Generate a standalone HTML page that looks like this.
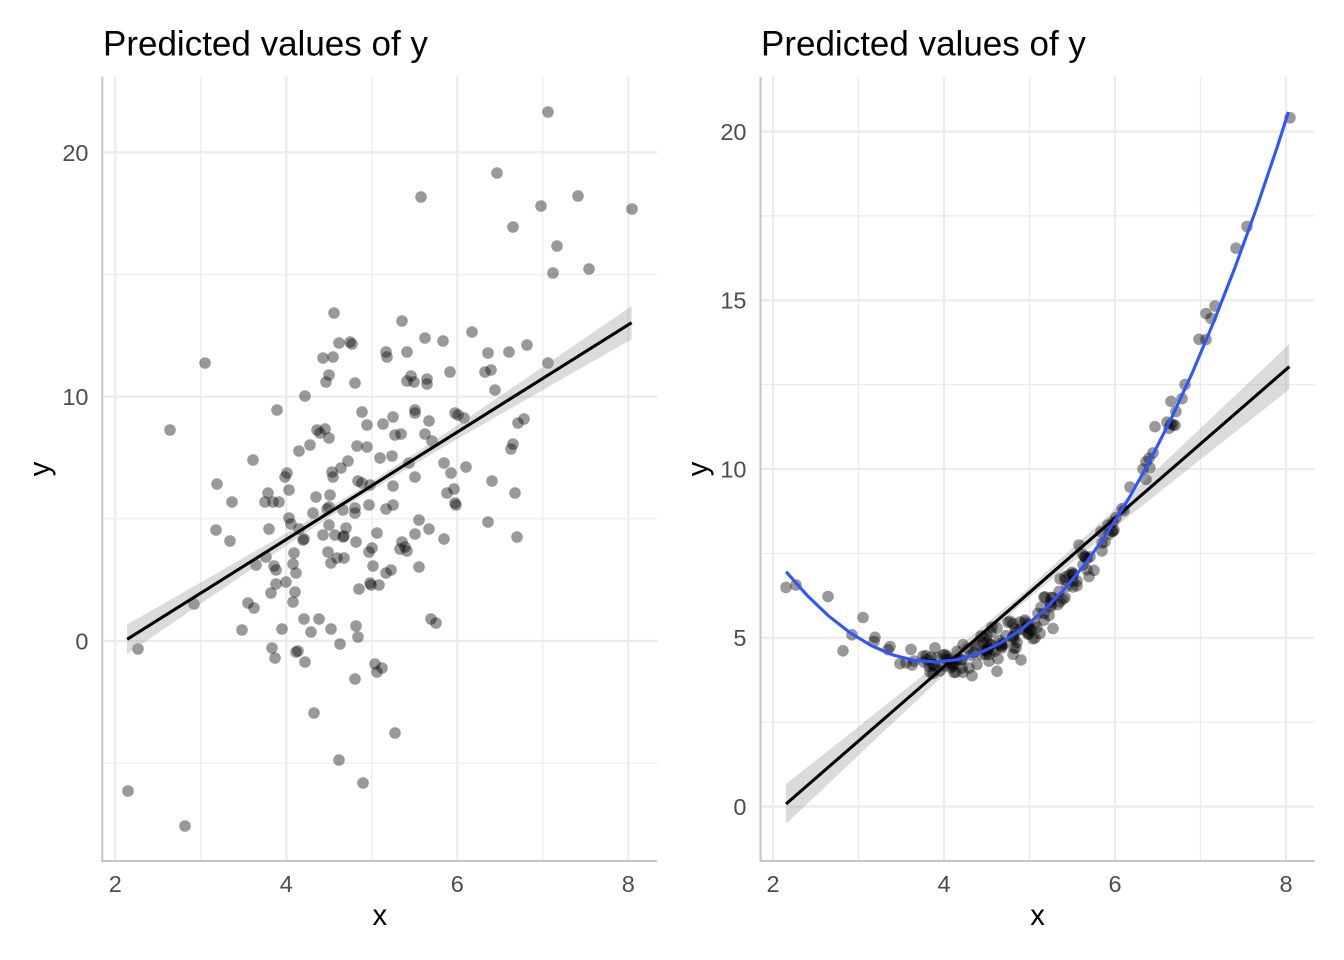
<!DOCTYPE html>
<html>
<head>
<meta charset="utf-8">
<style>
  html, body { margin:0; padding:0; background:#ffffff; }
  body { width:1344px; height:960px; overflow:hidden; }
  svg { display:block; }
  text { font-family: "Liberation Sans", Arial, sans-serif; }
  .title { font-size:35px; fill:#000; }
  .tick { font-size:23.5px; fill:#4d4d4d; }
  .atitle { font-size:29.3px; fill:#000; }
  .gmaj { stroke:#ebebeb; stroke-width:2.2; }
  .gmin { stroke:#ebebeb; stroke-width:1.2; }
  .axis { stroke:#c6c6c6; stroke-width:2; }
  .pts circle { fill:#000; fill-opacity:0.4; }
</style>
</head>
<body>
<svg width="1344" height="960" viewBox="0 0 1344 960" xmlns="http://www.w3.org/2000/svg">
  <rect x="0" y="0" width="1344" height="960" fill="#ffffff"/>

  <!-- LEFT PANEL -->
  <g>
    <line class="gmin" x1="102.3" y1="763.2" x2="657.3" y2="763.2"/>
    <line class="gmin" x1="102.3" y1="518.9" x2="657.3" y2="518.9"/>
    <line class="gmin" x1="102.3" y1="274.6" x2="657.3" y2="274.6"/>
    <line class="gmin" x1="200.8" y1="76.7" x2="200.8" y2="861"/>
    <line class="gmin" x1="371.8" y1="76.7" x2="371.8" y2="861"/>
    <line class="gmin" x1="542.8" y1="76.7" x2="542.8" y2="861"/>
    <line class="gmaj" x1="102.3" y1="641" x2="657.3" y2="641"/>
    <line class="gmaj" x1="102.3" y1="396.7" x2="657.3" y2="396.7"/>
    <line class="gmaj" x1="102.3" y1="152.4" x2="657.3" y2="152.4"/>
    <line class="gmaj" x1="115.3" y1="76.7" x2="115.3" y2="861"/>
    <line class="gmaj" x1="286.3" y1="76.7" x2="286.3" y2="861"/>
    <line class="gmaj" x1="457.3" y1="76.7" x2="457.3" y2="861"/>
    <line class="gmaj" x1="628.3" y1="76.7" x2="628.3" y2="861"/>

    <g id="ptsL" class="pts">
      <circle cx="548" cy="112" r="5.8"/><circle cx="497" cy="173" r="5.8"/><circle cx="421" cy="197" r="5.8"/>
      <circle cx="578" cy="196" r="5.8"/><circle cx="541" cy="206" r="5.8"/><circle cx="632" cy="209" r="5.8"/>
      <circle cx="513" cy="227" r="5.8"/><circle cx="557" cy="246" r="5.8"/><circle cx="553" cy="273" r="5.8"/>
      <circle cx="589" cy="269" r="5.8"/><circle cx="334" cy="313" r="5.8"/><circle cx="402" cy="321" r="5.8"/>
      <circle cx="472" cy="332" r="5.8"/><circle cx="339" cy="343" r="5.8"/><circle cx="350" cy="342" r="5.8"/>
      <circle cx="352" cy="344" r="5.8"/><circle cx="425" cy="338" r="5.8"/><circle cx="443" cy="341" r="5.8"/>
      <circle cx="488" cy="353" r="5.8"/><circle cx="509" cy="352" r="5.8"/><circle cx="527" cy="345" r="5.8"/>
      <circle cx="386" cy="352" r="5.8"/><circle cx="387" cy="357" r="5.8"/><circle cx="407" cy="352" r="5.8"/>
      <circle cx="323" cy="358" r="5.8"/><circle cx="333" cy="357" r="5.8"/><circle cx="548" cy="363" r="5.8"/>
      <circle cx="205" cy="363" r="5.8"/><circle cx="329" cy="375" r="5.8"/><circle cx="326" cy="382" r="5.8"/>
      <circle cx="355" cy="383" r="5.8"/><circle cx="411" cy="376" r="5.8"/><circle cx="407" cy="381" r="5.8"/>
      <circle cx="414" cy="382" r="5.8"/><circle cx="427" cy="379" r="5.8"/><circle cx="427" cy="384" r="5.8"/>
      <circle cx="450" cy="372" r="5.8"/><circle cx="485" cy="372" r="5.8"/><circle cx="491" cy="370" r="5.8"/>
      <circle cx="495" cy="390" r="5.8"/><circle cx="305" cy="396" r="5.8"/><circle cx="277" cy="410" r="5.8"/>
      <circle cx="170" cy="430" r="5.8"/><circle cx="362" cy="412" r="5.8"/><circle cx="367" cy="425" r="5.8"/>
      <circle cx="383" cy="424" r="5.8"/><circle cx="393" cy="417" r="5.8"/><circle cx="415" cy="410" r="5.8"/>
      <circle cx="415" cy="413" r="5.8"/><circle cx="429" cy="421" r="5.8"/><circle cx="455" cy="413" r="5.8"/>
      <circle cx="458" cy="415" r="5.8"/><circle cx="464" cy="418" r="5.8"/><circle cx="518" cy="423" r="5.8"/>
      <circle cx="524" cy="419" r="5.8"/><circle cx="317" cy="430" r="5.8"/><circle cx="325" cy="429" r="5.8"/>
      <circle cx="320" cy="433" r="5.8"/><circle cx="329" cy="438" r="5.8"/><circle cx="395" cy="435" r="5.8"/>
      <circle cx="401" cy="434" r="5.8"/><circle cx="425" cy="434" r="5.8"/><circle cx="432" cy="441" r="5.8"/>
      <circle cx="513" cy="444" r="5.8"/><circle cx="511" cy="449" r="5.8"/><circle cx="310" cy="445" r="5.8"/>
      <circle cx="299" cy="451" r="5.8"/><circle cx="253" cy="460" r="5.8"/><circle cx="357" cy="446" r="5.8"/>
      <circle cx="367" cy="447" r="5.8"/><circle cx="380" cy="458" r="5.8"/><circle cx="392" cy="456" r="5.8"/>
      <circle cx="409" cy="463" r="5.8"/><circle cx="444" cy="463" r="5.8"/><circle cx="466" cy="467" r="5.8"/>
      <circle cx="348" cy="461" r="5.8"/><circle cx="341" cy="468" r="5.8"/><circle cx="332" cy="472" r="5.8"/>
      <circle cx="333" cy="477" r="5.8"/><circle cx="287" cy="473" r="5.8"/><circle cx="285" cy="477" r="5.8"/>
      <circle cx="415" cy="477" r="5.8"/><circle cx="451" cy="473" r="5.8"/><circle cx="492" cy="481" r="5.8"/>
      <circle cx="358" cy="481" r="5.8"/><circle cx="362" cy="483" r="5.8"/><circle cx="217" cy="484" r="5.8"/>
      <circle cx="289" cy="490" r="5.8"/><circle cx="268" cy="493" r="5.8"/><circle cx="232" cy="502" r="5.8"/>
      <circle cx="265" cy="502" r="5.8"/><circle cx="273" cy="502" r="5.8"/><circle cx="279" cy="502" r="5.8"/>
      <circle cx="316" cy="497" r="5.8"/><circle cx="330" cy="495" r="5.8"/><circle cx="370" cy="485" r="5.8"/>
      <circle cx="393" cy="486" r="5.8"/><circle cx="454" cy="489" r="5.8"/><circle cx="447" cy="493" r="5.8"/>
      <circle cx="456" cy="505" r="5.8"/><circle cx="455" cy="503" r="5.8"/><circle cx="515" cy="493" r="5.8"/>
      <circle cx="369" cy="505" r="5.8"/><circle cx="393" cy="505" r="5.8"/><circle cx="386" cy="509" r="5.8"/>
      <circle cx="355" cy="508" r="5.8"/><circle cx="355" cy="513" r="5.8"/><circle cx="343" cy="510" r="5.8"/>
      <circle cx="327" cy="509" r="5.8"/><circle cx="329" cy="507" r="5.8"/><circle cx="313" cy="513" r="5.8"/>
      <circle cx="289" cy="518" r="5.8"/><circle cx="291" cy="524" r="5.8"/><circle cx="299" cy="529" r="5.8"/>
      <circle cx="303" cy="540" r="5.8"/><circle cx="304" cy="539" r="5.8"/><circle cx="269" cy="529" r="5.8"/>
      <circle cx="216" cy="530" r="5.8"/><circle cx="230" cy="541" r="5.8"/><circle cx="329" cy="525" r="5.8"/>
      <circle cx="323" cy="535" r="5.8"/><circle cx="335" cy="535" r="5.8"/><circle cx="343" cy="537" r="5.8"/>
      <circle cx="344" cy="536" r="5.8"/><circle cx="346" cy="528" r="5.8"/><circle cx="356" cy="542" r="5.8"/>
      <circle cx="377" cy="533" r="5.8"/><circle cx="372" cy="548" r="5.8"/><circle cx="369" cy="552" r="5.8"/>
      <circle cx="419" cy="520" r="5.8"/><circle cx="415" cy="534" r="5.8"/><circle cx="429" cy="529" r="5.8"/>
      <circle cx="444" cy="539" r="5.8"/><circle cx="402" cy="542" r="5.8"/><circle cx="405" cy="547" r="5.8"/>
      <circle cx="407" cy="551" r="5.8"/><circle cx="400" cy="549" r="5.8"/><circle cx="488" cy="522" r="5.8"/>
      <circle cx="517" cy="537" r="5.8"/><circle cx="294" cy="553" r="5.8"/><circle cx="293" cy="564" r="5.8"/>
      <circle cx="296" cy="573" r="5.8"/><circle cx="266" cy="557" r="5.8"/><circle cx="256" cy="565" r="5.8"/>
      <circle cx="274" cy="566" r="5.8"/><circle cx="276" cy="570" r="5.8"/><circle cx="328" cy="552" r="5.8"/>
      <circle cx="331" cy="563" r="5.8"/><circle cx="337" cy="558" r="5.8"/><circle cx="344" cy="558" r="5.8"/>
      <circle cx="373" cy="566" r="5.8"/><circle cx="386" cy="573" r="5.8"/><circle cx="391" cy="570" r="5.8"/>
      <circle cx="419" cy="567" r="5.8"/><circle cx="286" cy="582" r="5.8"/><circle cx="276" cy="584" r="5.8"/>
      <circle cx="271" cy="593" r="5.8"/><circle cx="295" cy="592" r="5.8"/><circle cx="293" cy="602" r="5.8"/>
      <circle cx="359" cy="589" r="5.8"/><circle cx="370" cy="583" r="5.8"/><circle cx="371" cy="585" r="5.8"/>
      <circle cx="379" cy="585" r="5.8"/><circle cx="194" cy="604" r="5.8"/><circle cx="248" cy="603" r="5.8"/>
      <circle cx="254" cy="608" r="5.8"/><circle cx="242" cy="630" r="5.8"/><circle cx="282" cy="629" r="5.8"/>
      <circle cx="304" cy="619" r="5.8"/><circle cx="319" cy="619" r="5.8"/><circle cx="311" cy="632" r="5.8"/>
      <circle cx="331" cy="629" r="5.8"/><circle cx="356" cy="626" r="5.8"/><circle cx="358" cy="637" r="5.8"/>
      <circle cx="340" cy="644" r="5.8"/><circle cx="431" cy="619" r="5.8"/><circle cx="436" cy="623" r="5.8"/>
      <circle cx="138" cy="649" r="5.8"/><circle cx="272" cy="648" r="5.8"/><circle cx="275" cy="658" r="5.8"/>
      <circle cx="296" cy="652" r="5.8"/><circle cx="298" cy="651" r="5.8"/><circle cx="305" cy="662" r="5.8"/>
      <circle cx="375" cy="664" r="5.8"/><circle cx="382" cy="668" r="5.8"/><circle cx="377" cy="672" r="5.8"/>
      <circle cx="355" cy="679" r="5.8"/><circle cx="314" cy="713" r="5.8"/><circle cx="395" cy="733" r="5.8"/>
      <circle cx="339" cy="760" r="5.8"/><circle cx="363" cy="783" r="5.8"/><circle cx="128" cy="791" r="5.8"/>
      <circle cx="185" cy="826" r="5.8"/>
    </g>

    <polygon fill="#999999" fill-opacity="0.35"
      points="127.1,624.5 200,582.9 280,536.9 363.3,487.1 450,430.1 540,368.8 631.6,306.1 631.6,339.3 540,391.6 450,443.3 363.3,495.1 280,549.8 200,604.2 127.1,654.1"/>
    <line x1="127.1" y1="639.3" x2="631.6" y2="322.7" stroke="#000" stroke-width="3.1"/>

    <line class="axis" x1="102.3" y1="76.7" x2="102.3" y2="862"/>
    <line class="axis" x1="101.3" y1="861" x2="657.3" y2="861"/>

    <text class="tick" x="88.5" y="160.8" text-anchor="end">20</text>
    <text class="tick" x="88.5" y="405.1" text-anchor="end">10</text>
    <text class="tick" x="88.5" y="649.4" text-anchor="end">0</text>
    <text class="tick" x="115.3" y="892" text-anchor="middle">2</text>
    <text class="tick" x="286.3" y="892" text-anchor="middle">4</text>
    <text class="tick" x="457.3" y="892" text-anchor="middle">6</text>
    <text class="tick" x="628.3" y="892" text-anchor="middle">8</text>

    <text class="atitle" x="379.8" y="925" text-anchor="middle">x</text>
    <text class="atitle" transform="translate(49.5,469) rotate(-90)" text-anchor="middle">y</text>

    <text class="title" x="103" y="55.5">Predicted values of y</text>
  </g>

  <!-- RIGHT PANEL -->
  <g>
    <line class="gmin" x1="760.5" y1="722.1" x2="1314.7" y2="722.1"/>
    <line class="gmin" x1="760.5" y1="553.4" x2="1314.7" y2="553.4"/>
    <line class="gmin" x1="760.5" y1="384.6" x2="1314.7" y2="384.6"/>
    <line class="gmin" x1="760.5" y1="215.9" x2="1314.7" y2="215.9"/>
    <line class="gmin" x1="858.5" y1="76.7" x2="858.5" y2="861"/>
    <line class="gmin" x1="1029.5" y1="76.7" x2="1029.5" y2="861"/>
    <line class="gmin" x1="1200.5" y1="76.7" x2="1200.5" y2="861"/>
    <line class="gmaj" x1="760.5" y1="806.5" x2="1314.7" y2="806.5"/>
    <line class="gmaj" x1="760.5" y1="637.8" x2="1314.7" y2="637.8"/>
    <line class="gmaj" x1="760.5" y1="469" x2="1314.7" y2="469"/>
    <line class="gmaj" x1="760.5" y1="300.3" x2="1314.7" y2="300.3"/>
    <line class="gmaj" x1="760.5" y1="131.5" x2="1314.7" y2="131.5"/>
    <line class="gmaj" x1="773" y1="76.7" x2="773" y2="861"/>
    <line class="gmaj" x1="944" y1="76.7" x2="944" y2="861"/>
    <line class="gmaj" x1="1115" y1="76.7" x2="1115" y2="861"/>
    <line class="gmaj" x1="1286" y1="76.7" x2="1286" y2="861"/>

    <polygon fill="#999999" fill-opacity="0.35"
      points="786,784 860,725.5 940,661.8 1021.3,594.5 1100,523 1190,438.2 1289.3,344.1 1289.3,389.3 1190,467.8 1100,539.4 1021.3,604.5 940,678.6 860,753.9 786,824"/>
    <line x1="786" y1="804" x2="1289.3" y2="366.7" stroke="#000" stroke-width="3.1"/>

    <g id="ptsR" class="pts"></g>

    <polyline fill="none" stroke="#2f55ff" stroke-width="3.1" stroke-linejoin="round"
      points="786.1,571.7 807.5,595.8 828.9,616.2 850.3,632.9 871.6,645.8 893.0,655.0 914.4,660.4 935.8,661.9 957.1,659.7 978.5,653.5 999.9,643.4 1021.3,629.4 1042.6,611.5 1064.0,589.6 1085.4,563.6 1106.8,533.6 1128.1,499.6 1149.5,461.5 1170.9,419.2 1192.3,372.8 1213.6,322.2 1235.0,267.5 1256.4,208.5 1277.8,145.2 1288.4,112.0"/>

    <line class="axis" x1="760.5" y1="76.7" x2="760.5" y2="862"/>
    <line class="axis" x1="759.5" y1="861" x2="1314.7" y2="861"/>

    <text class="tick" x="746.5" y="139.9" text-anchor="end">20</text>
    <text class="tick" x="746.5" y="308.7" text-anchor="end">15</text>
    <text class="tick" x="746.5" y="477.4" text-anchor="end">10</text>
    <text class="tick" x="746.5" y="646.2" text-anchor="end">5</text>
    <text class="tick" x="746.5" y="814.9" text-anchor="end">0</text>
    <text class="tick" x="773" y="892" text-anchor="middle">2</text>
    <text class="tick" x="944" y="892" text-anchor="middle">4</text>
    <text class="tick" x="1115" y="892" text-anchor="middle">6</text>
    <text class="tick" x="1286" y="892" text-anchor="middle">8</text>

    <text class="atitle" x="1037.6" y="925" text-anchor="middle">x</text>
    <text class="atitle" transform="translate(707.7,469) rotate(-90)" text-anchor="middle">y</text>

    <text class="title" x="761" y="55.5">Predicted values of y</text>
  </g>
</svg>
<script>
(function () {
  var ns = "http://www.w3.org/2000/svg";
  var L = document.querySelectorAll("#ptsL circle");
  var g = document.getElementById("ptsR");
  if (!g || g.childNodes.length > 0) return;
  for (var i = 0; i < L.length; i++) {
    var px = +L[i].getAttribute("cx"), py = +L[i].getAttribute("cy");
    var x = 2 + (px - 115.3) / 85.5;
    var res = ((639.3 - 0.6276 * (px - 127.1)) - py) / 24.43;
    var u = x - 4;
    var yc = 4.30 + 0.225 * u + 0.914 * u * u + 0.00857 * u * u * u;
    var y = yc + 0.075 * res;
    if (px >= 630) { y = 20.4; }
    var c = document.createElementNS(ns, "circle");
    c.setAttribute("cx", (px + 658).toFixed(1));
    c.setAttribute("cy", (806.7 - y * 33.77).toFixed(1));
    c.setAttribute("r", "5.8");
    g.appendChild(c);
  }
})();
</script>
</body>
</html>
